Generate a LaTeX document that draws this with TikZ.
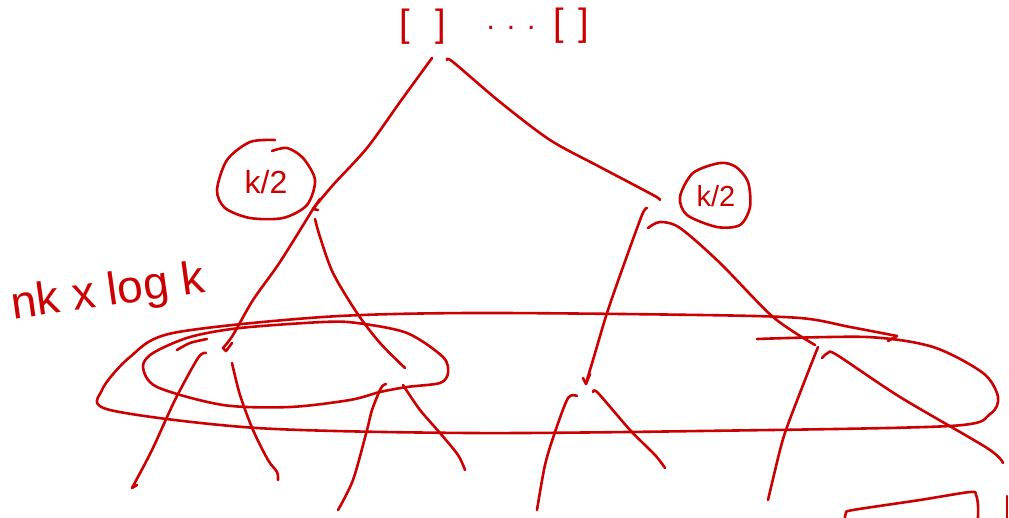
\documentclass[tikz,border=0pt]{standalone}
\usepackage{fontspec}
\setmainfont{Liberation Sans}
\definecolor{ink}{RGB}{204,0,0}
\begin{document}
\begin{tikzpicture}[x=1pt,y=-1pt,
  pen/.style={draw=ink,line width=2.6pt,line cap=round,line join=round},
  hand/.style={text=ink,inner sep=0pt},
]
\useasboundingbox (0,0) rectangle (1009,518);
% top text
\node[hand,font=\fontsize{38}{38}\selectfont] (lb1) at (405,27) {[};
\node[hand,font=\fontsize{38}{38}\selectfont] (rb1) at (441,27) {]};
\node[hand,font=\fontsize{30}{30}\selectfont] (dots) at (511,28) {.\hspace{12pt}.\hspace{12pt}.};
\node[hand,font=\fontsize{38}{38}\selectfont] (lb2) at (559,26) {[};
\node[hand,font=\fontsize{38}{38}\selectfont] (rb2) at (584,26) {]};
% labels
\node[hand,font=\fontsize{32}{32}\selectfont] (kl) at (266,182) {k/2};
\node[hand,font=\fontsize{29}{29}\selectfont] (kr) at (716,196) {k/2};
\node[hand,font=\fontsize{46}{46}\selectfont,rotate=8] (cost) at (108,294) {nk x log k};
% circles round k/2
\draw[pen] plot[smooth] coordinates {(275,140) (250,142) (227,160) (217,190) (225,208) (250,218) (283,218) (307,205) (315,180) (303,158) (287,148) (272,151)};
\draw[pen] plot[smooth cycle] coordinates {(720,163) (693,173) (680,197) (687,215) (717,227) (740,225) (750,207) (748,182) (736,167)};
% tree coordinates
\coordinate (root) at (441,57);
\coordinate (L) at (313,209);
\coordinate (R) at (650,205);
\coordinate (LL) at (215,348);
\coordinate (LR) at (405,372);
\coordinate (RL) at (588,388);
\coordinate (RR) at (818,350);
% root branches
\draw[pen] plot[smooth] coordinates {(432,58) (400,102) (367,148) (333,185) (L)};
\draw[pen] (320,199) -- (L) -- (318,210);
\draw[pen] plot[smooth] coordinates {(447,60) (453,62) (500,102) (550,140) (600,167) (653,195) (660,200)};
% left child
\draw[pen] plot[smooth] coordinates {(L) (280,262) (253,300) (233,335) (223,348)} -- (226,351) -- (232,343);
\draw[pen] plot[smooth] coordinates {(315,219) (320,237) (333,273) (357,313) (380,343) (405,368)};
% right child
\draw[pen] plot[smooth] coordinates {(647,208) (642,215) (623,267) (607,313) (593,360) (586,383)};
\draw[pen] (583,378) -- (586,384) -- (590,374);
\draw[pen] plot[smooth] coordinates {(648,228) (660,222) (680,228) (720,263) (773,317) (815,345)};
% grandchild LL
\draw[pen] plot[smooth] coordinates {(177,350) (190,343) (207,339)};
\draw[pen] plot[smooth] coordinates {(206,353) (198,358) (175,400) (152,450) (132,488)} -- (137,485);
\draw[pen] plot[smooth] coordinates {(232,363) (240,395) (253,430) (268,460) (277,472) (278,480)};
% grandchild LR
\draw[pen] plot[smooth] coordinates {(386,384) (381,388) (372,410) (367,430) (353,480) (338,510)};
\draw[pen] plot[smooth] coordinates {(403,385) (420,410) (440,433) (458,455) (465,470)};
% grandchild RL
\draw[pen] plot[smooth] coordinates {(577,396) (568,398) (555,432) (545,465) (537,510)};
\draw[pen] plot[smooth] coordinates {(593,392) (598,393) (630,430) (655,455) (665,468)};
% grandchild RR
\draw[pen] plot[smooth] coordinates {(818,347) (805,380) (787,427) (780,450) (768,500)};
\draw[pen] plot[smooth] coordinates {(822,358) (828,353) (837,355) (900,397) (987,448) (1003,463)};
% inner loop
\draw[pen] plot[smooth cycle] coordinates {(323,322) (357,323) (407,333) (443,357) (448,373) (440,383) (407,387) (380,392) (350,400) (290,407) (223,405) (157,387) (143,367) (153,353) (190,337) (240,328)};
% outer loop
\draw[pen] (888,341) -- (897,336);
\draw[pen] plot[smooth] coordinates {(897,336) (850,327) (800,318) (700,315) (470,313) (323,317) (173,333) (130,357) (102,390) (110,410) (257,428) (470,433) (700,431) (950,426) (990,414) (998,397) (983,373) (933,347) (867,337) (757,339)};
% bottom right fragments
\draw[pen] plot[smooth] coordinates {(845,518) (846,513) (853,510) (920,500) (970,492) (976,495) (978,505) (978,518)};
\draw[pen] (1007,496) -- (1007,518);
\end{tikzpicture}
\end{document}
